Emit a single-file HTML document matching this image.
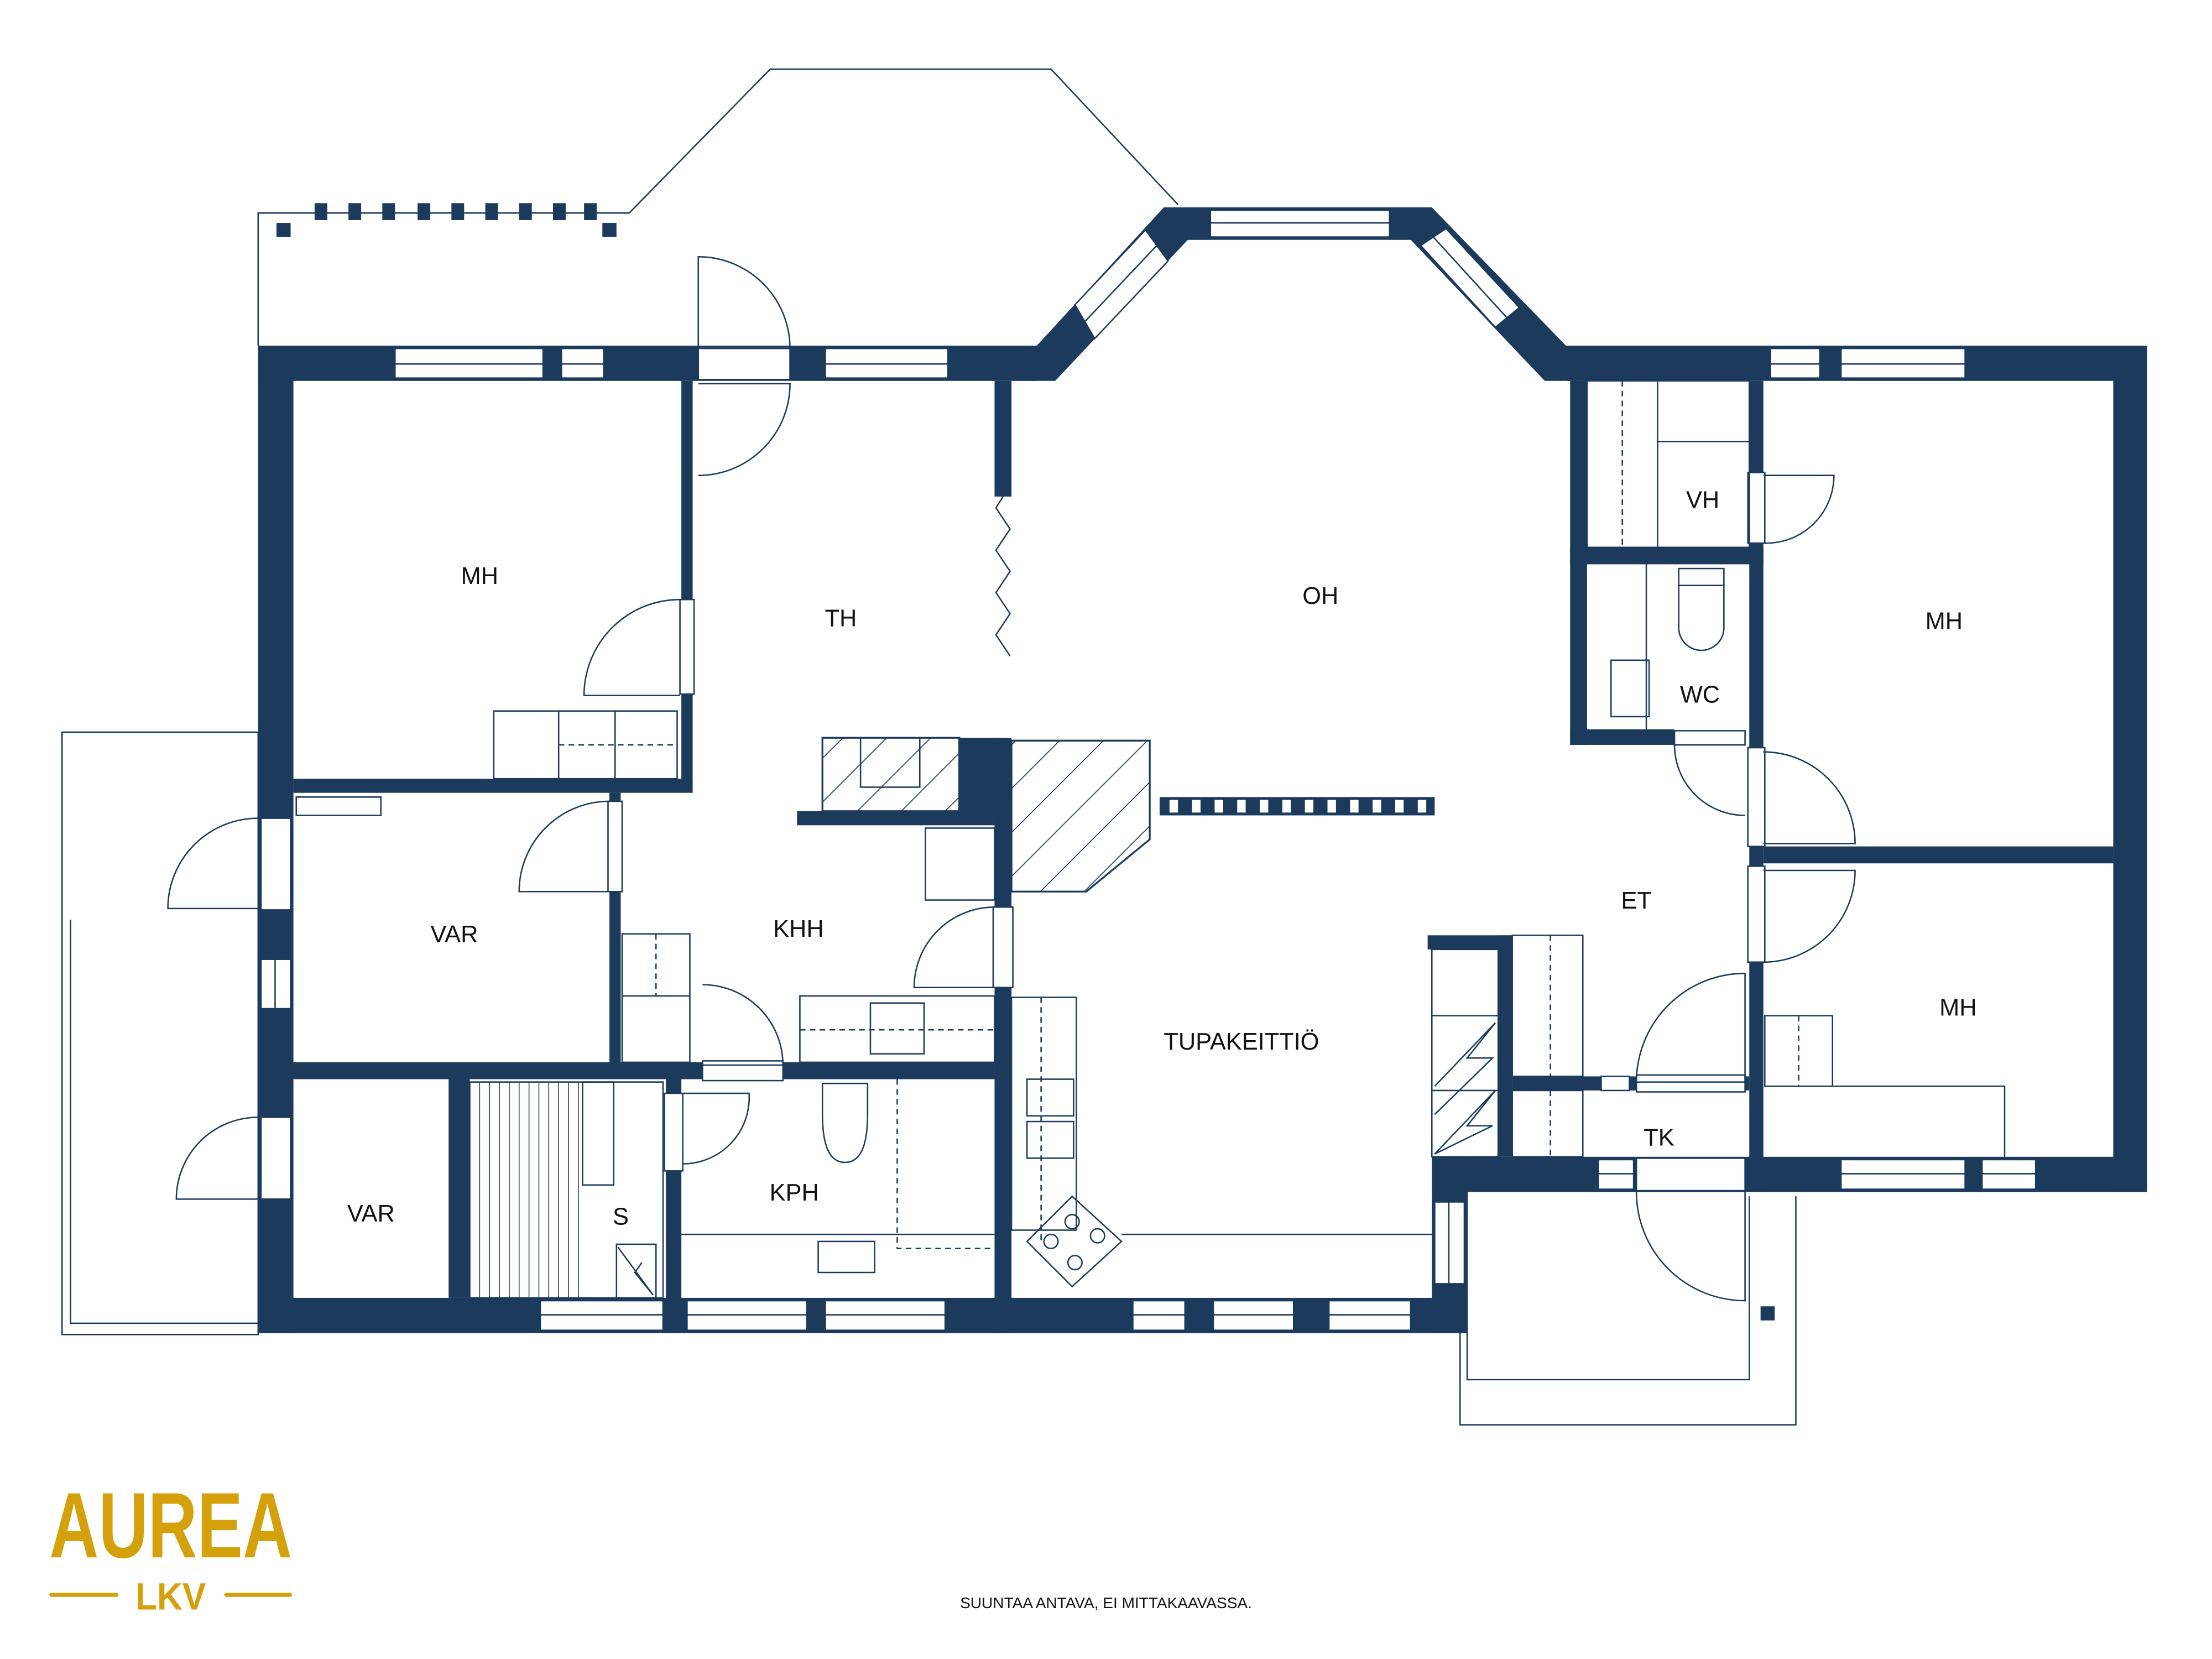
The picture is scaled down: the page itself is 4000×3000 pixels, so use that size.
<!DOCTYPE html>
<html><head><meta charset="utf-8"><style>
html,body{margin:0;padding:0;background:#fff}
svg{display:block}
text{font-family:"Liberation Sans",sans-serif;fill:#111}
</style></head><body>
<svg width="4000" height="3000" viewBox="0 0 1568 1176" xmlns="http://www.w3.org/2000/svg">
<defs>
<pattern id="hatch" width="22" height="22" patternUnits="userSpaceOnUse" patternTransform="rotate(45)">
<line x1="0" y1="0" x2="0" y2="22" stroke="#1b3a5c" stroke-width="1.3"/></pattern>
</defs>
<rect width="1568" height="1176" fill="#fff"/>
<g fill="none" stroke="#1b3a5c" stroke-width="1">
<rect x="44" y="519" width="139" height="427"/>
<polyline points="50,652 50,938 183,938"/>
<polyline points="183,245 183,151 446,151 546,49 745,49 835,145"/>
<polyline points="1035,845 1035,1010 1273,1010 1273,848"/>
<polyline points="1040,845 1040,978 1240,978 1240,848"/>
</g>
<g fill="#1b3a5c">
<rect x="196" y="158" width="10" height="10"/><rect x="427" y="158" width="10" height="10"/>
<rect x="223" y="144" width="9" height="12"/><rect x="247" y="144" width="9" height="12"/><rect x="271" y="144" width="9" height="12"/><rect x="296" y="144" width="9" height="12"/><rect x="320" y="144" width="9" height="12"/><rect x="344" y="144" width="9" height="12"/><rect x="368" y="144" width="9" height="12"/><rect x="392" y="144" width="9" height="12"/><rect x="414" y="144" width="9" height="12"/>
<rect x="1248" y="926" width="10" height="10"/>
<rect x="183" y="245" width="552" height="25"/>
<polygon points="720,245 735,245 825,147 858,147 858,170 842,170 748,270 720,270"/>
<rect x="825" y="147" width="190" height="23"/>
<polygon points="985,147 1015,147 1110,245 1125,245 1125,270 1095,270 1000,170 985,170"/>
<rect x="1110" y="245" width="412" height="25"/>
<rect x="1498" y="245" width="24" height="600"/>
<rect x="1015" y="820" width="507" height="25"/>
<rect x="183" y="245" width="25" height="700"/>
<rect x="183" y="920" width="857" height="25"/>
<rect x="1015" y="820" width="25" height="125"/>
<rect x="483" y="270" width="8" height="290"/>
<rect x="208" y="552" width="283" height="10"/>
<rect x="432" y="562" width="8" height="191"/>
<rect x="183" y="753" width="522" height="12"/>
<rect x="705" y="270" width="12" height="82"/>
<rect x="705" y="523" width="12" height="422"/>
<rect x="680" y="523" width="37" height="57"/>
<rect x="565" y="575" width="140" height="10"/>
<rect x="318" y="765" width="15" height="155"/>
<rect x="472" y="765" width="11" height="180"/>
<rect x="1113" y="270" width="12" height="258"/>
<rect x="1113" y="388" width="137" height="12"/>
<rect x="1113" y="517" width="74" height="11"/>
<rect x="1240" y="270" width="10" height="575"/>
<rect x="1250" y="600" width="248" height="12"/>
<rect x="1072" y="763" width="168" height="10"/>
<rect x="1012" y="663" width="60" height="10"/>
<rect x="1062" y="663" width="10" height="157"/>
</g>
<g fill="#fff" stroke="#1b3a5c" stroke-width="1">
<rect x="280" y="247" width="105" height="21"/><line x1="280" y1="258" x2="385" y2="258"/>
<rect x="398" y="247" width="30" height="21"/><line x1="398" y1="258" x2="428" y2="258"/>
<rect x="495" y="246" width="65" height="23"/>
<rect x="585" y="247" width="87" height="21"/><line x1="585" y1="258" x2="672" y2="258"/>
<polygon points="762,216 812,163 828,185 776,240"/><line x1="769" y1="228" x2="820" y2="174"/>
<rect x="858" y="149" width="127" height="19"/><line x1="858" y1="158" x2="985" y2="158"/>
<polygon points="1007,174 1025,162 1077,218 1060,232"/><line x1="1016" y1="168" x2="1068" y2="225"/>
<rect x="1255" y="247" width="35" height="21"/><line x1="1255" y1="258" x2="1290" y2="258"/>
<rect x="1305" y="247" width="88" height="21"/><line x1="1305" y1="258" x2="1393" y2="258"/>
<rect x="1133" y="822" width="25" height="21"/><line x1="1133" y1="832" x2="1158" y2="832"/>
<rect x="1160" y="821" width="77" height="23"/>
<rect x="1305" y="822" width="88" height="21"/><line x1="1305" y1="832" x2="1393" y2="832"/>
<rect x="1405" y="822" width="38" height="21"/><line x1="1405" y1="832" x2="1443" y2="832"/>
<rect x="185" y="580" width="21" height="65"/>
<rect x="185" y="680" width="21" height="35"/><line x1="195" y1="680" x2="195" y2="715"/>
<rect x="185" y="792" width="21" height="58"/>
<rect x="383" y="922" width="87" height="21"/><line x1="383" y1="932" x2="470" y2="932"/>
<rect x="487" y="922" width="85" height="21"/><line x1="487" y1="932" x2="572" y2="932"/>
<rect x="585" y="922" width="85" height="21"/><line x1="585" y1="932" x2="670" y2="932"/>
<rect x="803" y="922" width="37" height="21"/><line x1="803" y1="932" x2="840" y2="932"/>
<rect x="860" y="922" width="57" height="21"/><line x1="860" y1="932" x2="917" y2="932"/>
<rect x="942" y="922" width="58" height="21"/><line x1="942" y1="932" x2="1000" y2="932"/>
<rect x="1017" y="852" width="21" height="58"/><line x1="1027" y1="852" x2="1027" y2="910"/>
<rect x="482" y="425" width="10" height="67"/>
<rect x="431" y="568" width="10" height="64"/>
<rect x="498" y="752" width="57" height="14"/>
<rect x="704" y="643" width="14" height="57"/>
<rect x="471" y="775" width="13" height="55"/>
<rect x="1239" y="335" width="12" height="50"/>
<rect x="1239" y="530" width="12" height="70"/>
<rect x="1239" y="614" width="12" height="68"/>
<rect x="1187" y="518" width="50" height="10"/>
<rect x="1160" y="762" width="77" height="12"/>
<rect x="1135" y="763" width="20" height="10"/>
<rect x="706" y="352" width="10" height="171" stroke="none"/>
</g>
<g fill="none" stroke="#1b3a5c" stroke-width="1">
<polyline points="711,352 706,360 716,375 706,390 716,405 706,420 716,435 706,450 716,465"/>
<path d="M495,182 A65,65 0 0 1 560,247 L495,247 Z"/>
<path d="M495,337 A65,65 0 0 0 560,272 L495,272"/>
<path d="M482,425 A68,68 0 0 0 414,493 L482,493"/>
<path d="M432,568 A64,64 0 0 0 368,632 L432,632"/>
<path d="M183,580 A64,64 0 0 0 119,644 L183,644"/>
<path d="M183,792 A58,58 0 0 0 125,850 L183,850"/>
<path d="M498,698 A57,57 0 0 1 555,755 L498,755"/>
<path d="M705,643 A57,57 0 0 0 648,700 L705,700"/>
<path d="M484,775 L531,775 A47,47 0 0 1 484,825"/>
<path d="M1250,337 L1300,337 A48,48 0 0 1 1250,385"/>
<path d="M1237,528 L1187,528 A50,50 0 0 0 1237,578"/>
<path d="M1250,533 A65,65 0 0 1 1315,598 L1250,598"/>
<path d="M1250,617 L1315,617 A65,65 0 0 1 1250,682"/>
<path d="M1237,690 A77,77 0 0 0 1160,767 L1237,767 Z"/>
<path d="M1160,845 A77,77 0 0 0 1237,922 L1237,845"/>
<rect x="350" y="504" width="130" height="48"/><line x1="396" y1="504" x2="396" y2="552"/><line x1="436" y1="504" x2="436" y2="552"/><line x1="396" y1="528" x2="480" y2="528" stroke-dasharray="4,3"/>
<rect x="441" y="662" width="48" height="91"/><line x1="441" y1="706" x2="489" y2="706"/><line x1="465" y1="662" x2="465" y2="706" stroke-dasharray="4,3"/>
<rect x="656" y="587" width="49" height="51"/>
<rect x="567" y="706" width="138" height="47"/><rect x="617" y="711" width="38" height="36"/><line x1="567" y1="730" x2="705" y2="730" stroke-dasharray="4,3"/>
<path d="M210,565 L270,565 L270,578 L210,578 Z"/>
<rect x="1125" y="270" width="115" height="118"/><line x1="1175" y1="270" x2="1175" y2="388"/><line x1="1175" y1="313" x2="1240" y2="313"/><line x1="1150" y1="270" x2="1150" y2="388" stroke-dasharray="4,3"/>
<rect x="1190" y="403" width="32" height="12"/><path d="M1190,415 L1190,445 A16,16 0 0 0 1222,445 L1222,415"/>
<rect x="1142" y="468" width="27" height="40"/><line x1="1167" y1="400" x2="1167" y2="517"/>
<rect x="1251" y="720" width="48" height="50"/><line x1="1275" y1="720" x2="1275" y2="770" stroke-dasharray="4,3"/>
<polyline points="1251,770 1421,770 1421,820"/>
<rect x="1072" y="663" width="50" height="100"/><line x1="1099" y1="663" x2="1099" y2="763" stroke-dasharray="4,3"/>
<rect x="1072" y="773" width="50" height="47"/><line x1="1099" y1="773" x2="1099" y2="820" stroke-dasharray="4,3"/>
<rect x="1015" y="673" width="47" height="147"/><line x1="1015" y1="720" x2="1062" y2="720"/><line x1="1015" y1="773" x2="1062" y2="773"/>
<polyline points="1017,770 1060,725 1040,750 1058,750 1017,790"/>
<polyline points="1017,818 1060,773 1040,798 1058,798 1017,818"/>
<rect x="717" y="707" width="46" height="165"/><line x1="738" y1="707" x2="738" y2="880" stroke-dasharray="4,3"/>
<rect x="728" y="765" width="33" height="26"/><rect x="728" y="795" width="33" height="26"/>
<polygon points="728,880 760,848 795,880 760,912"/>
<circle cx="745" cy="880" r="5"/><circle cx="760" cy="866" r="5"/><circle cx="778" cy="876" r="5"/><circle cx="762" cy="895" r="5"/>
<polyline points="795,875 1015,875"/>
<path d="M583,768 L615,768 L615,790 Q615,824 599,824 Q583,824 583,790 Z"/>
<rect x="580" y="880" width="40" height="22"/><line x1="483" y1="875" x2="705" y2="875"/>
<polyline points="636,765 636,885 705,885" stroke-dasharray="4,3"/>
<rect x="333" y="767" width="137" height="153"/>
<g stroke-width="0.6">
<line x1="340" y1="767" x2="340" y2="920"/><line x1="347" y1="767" x2="347" y2="920"/><line x1="354" y1="767" x2="354" y2="920"/><line x1="361" y1="767" x2="361" y2="920"/><line x1="368" y1="767" x2="368" y2="920"/><line x1="375" y1="767" x2="375" y2="920"/><line x1="382" y1="767" x2="382" y2="920"/><line x1="389" y1="767" x2="389" y2="920"/><line x1="396" y1="767" x2="396" y2="920"/><line x1="403" y1="767" x2="403" y2="920"/><line x1="410" y1="767" x2="410" y2="920"/>
</g>
<rect x="413" y="767" width="22" height="73"/>
<rect x="437" y="882" width="28" height="38"/><polyline points="438,884 463,918 450,902 455,895"/>
</g>
<rect x="583" y="523" width="97" height="52" fill="url(#hatch)" stroke="#1b3a5c" stroke-width="1.3"/>
<rect x="610" y="523" width="42" height="35" fill="none" stroke="#1b3a5c"/>
<polygon points="717,525 815,525 815,595 770,632 717,632" fill="url(#hatch)" stroke="#1b3a5c" stroke-width="1.3"/>
<rect x="822" y="565" width="195" height="13" fill="#1b3a5c"/>
<g fill="#fff"><rect x="829" y="567" width="6" height="9"/><rect x="845" y="567" width="6" height="9"/><rect x="861" y="567" width="6" height="9"/><rect x="877" y="567" width="6" height="9"/><rect x="893" y="567" width="6" height="9"/><rect x="909" y="567" width="6" height="9"/><rect x="925" y="567" width="6" height="9"/><rect x="941" y="567" width="6" height="9"/><rect x="957" y="567" width="6" height="9"/><rect x="973" y="567" width="6" height="9"/><rect x="989" y="567" width="6" height="9"/><rect x="1005" y="567" width="6" height="9"/></g>
<g font-size="17" text-anchor="middle">
<text x="340" y="414">MH</text><text x="596" y="444">TH</text><text x="936" y="428">OH</text>
<text x="1207" y="360">VH</text><text x="1205" y="498">WC</text><text x="1378" y="446">MH</text>
<text x="1160" y="644">ET</text><text x="566" y="664">KHH</text><text x="322" y="668">VAR</text>
<text x="880" y="744">TUPAKEITTIÖ</text><text x="1388" y="720">MH</text><text x="1176" y="812">TK</text>
<text x="563" y="851">KPH</text><text x="263" y="866">VAR</text><text x="440" y="868">S</text>
</g>
<text x="784" y="1140" font-size="11" text-anchor="middle">SUUNTAA ANTAVA, EI MITTAKAAVASSA.</text>
<text x="121" y="1104" font-size="66" font-weight="bold" text-anchor="middle" style="fill:#d4a00c" textLength="172" lengthAdjust="spacingAndGlyphs">AUREA</text>
<text x="121" y="1141" font-size="27" font-weight="bold" text-anchor="middle" style="fill:#d4a00c" textLength="50" lengthAdjust="spacingAndGlyphs">LKV</text>
<rect x="35" y="1129" width="49" height="3" rx="1.5" fill="#d4a00c"/>
<rect x="159" y="1129" width="48" height="3" rx="1.5" fill="#d4a00c"/>
</svg>
</body></html>
